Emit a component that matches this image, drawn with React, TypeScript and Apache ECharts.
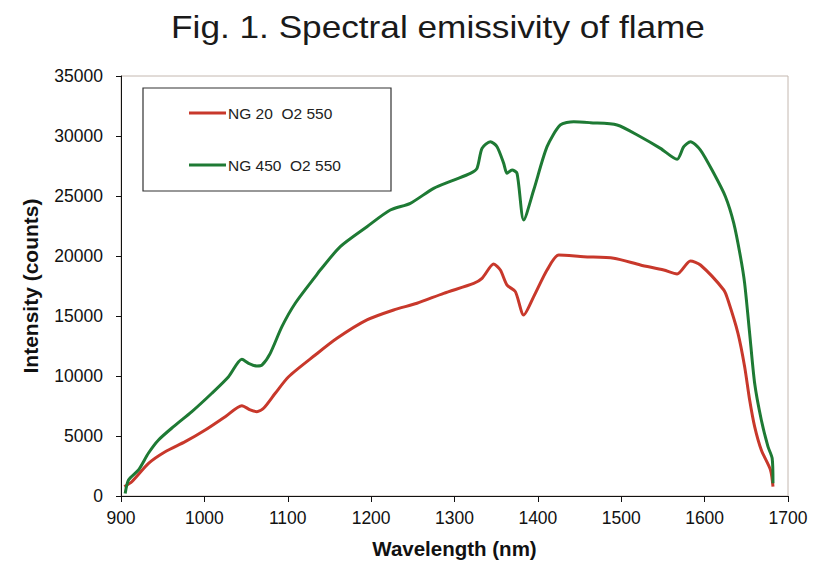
import React, { useEffect, useRef } from "react";
import * as echarts from "echarts";

const titleText = "Fig. 1. Spectral emissivity of flame";
const xTicks = [900, 1000, 1100, 1200, 1300, 1400, 1500, 1600, 1700];
const yTicks = [0, 5000, 10000, 15000, 20000, 25000, 30000, 35000];
const seriesNames = ["NG 20  O2 550", "NG 450  O2 550"];

const redWl = [904, 913, 933, 953, 977, 1001, 1025, 1045, 1055, 1063, 1071, 1085, 1101, 1133, 1159, 1195, 1227, 1255, 1287, 1323, 1333, 1347, 1355, 1363, 1373, 1383, 1395, 1411, 1425, 1455, 1491, 1523, 1551, 1567, 1583, 1595, 1623, 1628, 1640, 1648, 1654, 1660, 1668, 1679, 1682];
const redVal = [780, 1190, 2720, 3690, 4530, 5500, 6610, 7530, 7170, 7030, 7310, 8560, 9940, 11750, 13140, 14670, 15500, 16060, 16890, 17720, 18140, 19330, 18830, 17580, 17030, 15080, 16610, 18830, 20080, 19940, 19810, 19250, 18830, 18500, 19580, 19250, 17170, 16330, 13560, 10780, 8000, 5780, 3830, 2170, 780];

const greenWl = [905, 909, 921, 933, 945, 963, 985, 1009, 1029, 1045, 1053, 1063, 1069, 1079, 1093, 1109, 1133, 1139, 1163, 1195, 1223, 1247, 1275, 1299, 1319, 1327, 1333, 1343, 1351, 1359, 1363, 1369, 1375, 1383, 1395, 1411, 1427, 1443, 1463, 1495, 1523, 1547, 1567, 1575, 1583, 1595, 1611, 1625, 1635, 1643, 1648, 1654, 1660, 1668, 1676, 1681, 1682];
const greenVal = [200, 1330, 2170, 3580, 4670, 5780, 7030, 8560, 9940, 11390, 11060, 10830, 10900, 11890, 14110, 16060, 18280, 18830, 20780, 22440, 23830, 24390, 25640, 26330, 26890, 27310, 28970, 29530, 29110, 27720, 26890, 27170, 26890, 23000, 25500, 29110, 30920, 31190, 31110, 30920, 29940, 28970, 28060, 29110, 29530, 28830, 26890, 24940, 22720, 19940, 17720, 13560, 9390, 6330, 4110, 3140, 1060];

const RED = "#c8382b";
const GREEN = "#1e7a34";

export default function App() {
  const ref = useRef<HTMLDivElement>(null);
  useEffect(() => {
    if (!ref.current) return;
    const chart = echarts.init(ref.current, null, { renderer: "svg" });
    const redData = redWl.map((w, i) => [w, redVal[i]]);
    const greenData = greenWl.map((w, i) => [w, greenVal[i]]);
    const font = "'Liberation Sans', Arial, sans-serif";
    chart.setOption({
      animation: false,
      backgroundColor: "#ffffff",
      grid: {
        left: 121,
        right: 30,
        top: 76,
        bottom: 71,
        show: true,
        borderColor: "#c4b8b0",
        borderWidth: 1,
        backgroundColor: "transparent",
      },
      xAxis: {
        type: "value",
        min: xTicks[0],
        max: xTicks[xTicks.length - 1],
        interval: 100,
        name: "Wavelength (nm)",
        nameLocation: "middle",
        nameGap: 42,
        nameTextStyle: { fontFamily: font, fontSize: 20.5, fontWeight: "bold", color: "#111" },
        axisLine: { show: true, lineStyle: { color: "#111", width: 1 } },
        axisTick: { show: true, inside: false, length: 6, lineStyle: { color: "#111" } },
        axisLabel: { fontFamily: font, fontSize: 17.5, color: "#111", margin: 13, formatter: (v: number) => String(v) },
        splitLine: { show: false },
      },
      yAxis: {
        type: "value",
        min: yTicks[0],
        max: yTicks[yTicks.length - 1],
        interval: 5000,
        name: "Intensity (counts)",
        nameLocation: "middle",
        nameGap: 80,
        nameTextStyle: { fontFamily: font, fontSize: 21, fontWeight: "bold", color: "#111" },
        axisLine: { show: true, lineStyle: { color: "#111", width: 1 } },
        axisTick: { show: true, inside: false, length: 5, lineStyle: { color: "#111" } },
        axisLabel: { fontFamily: font, fontSize: 17.5, color: "#111", margin: 18, formatter: (v: number) => String(v) },
        splitLine: { show: false },
      },
      series: [
        {
          name: seriesNames[0],
          type: "line",
          data: redData,
          showSymbol: false,
          symbol: "none",
          smooth: 0.25,
          lineStyle: { color: RED, width: 3 },
          itemStyle: { color: RED },
          z: 3,
        },
        {
          name: seriesNames[1],
          type: "line",
          data: greenData,
          showSymbol: false,
          symbol: "none",
          smooth: 0.25,
          lineStyle: { color: GREEN, width: 3 },
          itemStyle: { color: GREEN },
          z: 4,
        },
      ],
      graphic: [
        {
          type: "text",
          x: 438,
          y: 27,
          scaleX: 1.1,
          style: {
            text: titleText,
            fontFamily: font,
            fontSize: 32,
            fill: "#1a1a1a",
            align: "center",
            verticalAlign: "middle",
          },
        },
        {
          type: "rect",
          shape: { x: 143, y: 88, width: 248, height: 103 },
          style: { fill: "#ffffff", stroke: "#333333", lineWidth: 1.2 },
          z: 10,
        },
        {
          type: "line",
          shape: { x1: 189, y1: 113, x2: 226, y2: 113 },
          style: { stroke: RED, lineWidth: 3 },
          z: 11,
        },
        {
          type: "text",
          x: 228,
          y: 113,
          style: { text: seriesNames[0], fontFamily: font, fontSize: 15.5, fill: "#222", verticalAlign: "middle" },
          z: 11,
        },
        {
          type: "line",
          shape: { x1: 189, y1: 165, x2: 226, y2: 165 },
          style: { stroke: GREEN, lineWidth: 3 },
          z: 11,
        },
        {
          type: "text",
          x: 228,
          y: 165,
          style: { text: seriesNames[1], fontFamily: font, fontSize: 15.5, fill: "#222", verticalAlign: "middle" },
          z: 11,
        },
      ],
    });
    return () => chart.dispose();
  }, []);
  return (
    <div
      ref={ref}
      style={{ position: "fixed", left: 0, top: 0, width: 818, height: 567, background: "#fff" }}
    />
  );
}
